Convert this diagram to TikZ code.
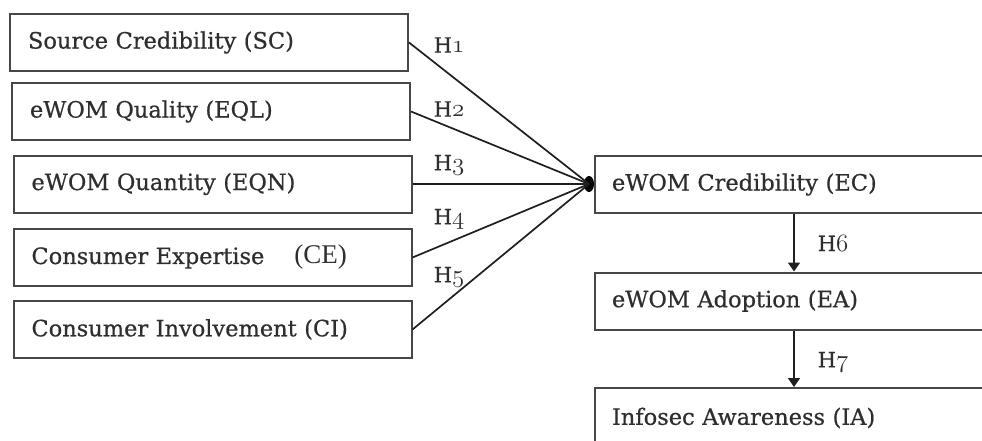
\documentclass[tikz,border=0pt]{standalone}
\usepackage{fontspec}
\setmainfont{DejaVu Serif}[BoldFont={DejaVu Serif}, BoldFeatures={FakeBold=0.6}]
\newfontfamily\timesfont{Liberation Serif}
\usetikzlibrary{shapes.geometric,arrows.meta}
\tikzset{
  lbox/.style={draw=black!72, line width=2pt, rectangle, inner xsep=18pt, inner ysep=0pt,
    minimum height=57pt, text width=362pt, align=left, font=\fontsize{22.5}{26}\selectfont\bfseries, text=black!82},
  rbox/.style={draw=black!72, line width=2pt, rectangle, inner xsep=17pt, inner ysep=0pt,
    minimum height=57pt, text width=371pt, align=left, font=\fontsize{22.5}{26}\selectfont\bfseries, text=black!82},
  hlab/.style={font=\fontsize{21}{23}\selectfont\bfseries, text=black!82, inner sep=0pt},
  conn/.style={line width=1.7pt, black!88},
  arr/.style={line width=1.7pt, black!88, -{Triangle[width=12pt,length=9pt]}},
}
\newcommand{\osn}[1]{{\fontencoding{OML}\fontfamily{lmm}\fontseries{b}\fontshape{it}\fontsize{26}{27}\selectfont #1}}
\begin{document}
\begin{tikzpicture}[x=1pt,y=-1pt]
\useasboundingbox (0,0) rectangle (982,441);
\clip (0,0) rectangle (982,441);
\fill[white] (0,0) rectangle (982,441);
% left boxes
\node[lbox] (sc) at (209,42.5) {Source Credibility (SC)};
\node[lbox] (eql) at (211,111.5) {eWOM Quality (EQL)};
\node[lbox] (eqn) at (212.5,184) {eWOM Quantity (EQN)};
\node[lbox] (ce) at (212.5,257.5) {Consumer Expertise\hspace{30pt}{\timesfont\mdseries\fontsize{27}{28}\selectfont (CE)}};
\node[lbox] (ci) at (212.5,329.5) {Consumer Involvement (CI)};
% right boxes
\node[rbox] (ec) at (797.5,184.5) {eWOM Credibility (EC)};
\node[rbox] (ea) at (797.5,301) {eWOM Adoption (EA)};
\node[rbox, minimum height=60pt] (ia) at (797.5,418) {Infosec Awareness (IA)};
% junction
\node[ellipse, fill=black, inner sep=0pt, minimum width=10pt, minimum height=16pt] (j) at (589,184) {};
\draw[conn] (sc.east) -- (j.center);
\draw[conn] (eql.east) -- (j.center);
\draw[conn] (eqn.east) -- (j.center);
\draw[conn] (ce.east) -- (j.center);
\draw[conn] (ci.east) -- (j.center);
% labels
\node[hlab] (h1) at (449,45) {H\osn{1}};
\node[hlab] (h2) at (449,109) {H\osn{2}};
\node[hlab] (h3) at (449,165) {H\osn{3}};
\node[hlab] (h4) at (449,219) {H\osn{4}};
\node[hlab] (h5) at (449,277) {H\osn{5}};
% vertical arrows
\path (ec.south west) ++(200,0) coordinate (a1);
\path (ea.south west) ++(200,0) coordinate (a2);
\draw[arr] (a1) -- (a1 |- ea.north);
\draw[arr] (a2) -- (a2 |- ia.north);
\node[hlab] (h6) at (833,243) {H\osn{6}};
\node[hlab] (h7) at (833,362) {H\osn{7}};
\end{tikzpicture}
\end{document}
